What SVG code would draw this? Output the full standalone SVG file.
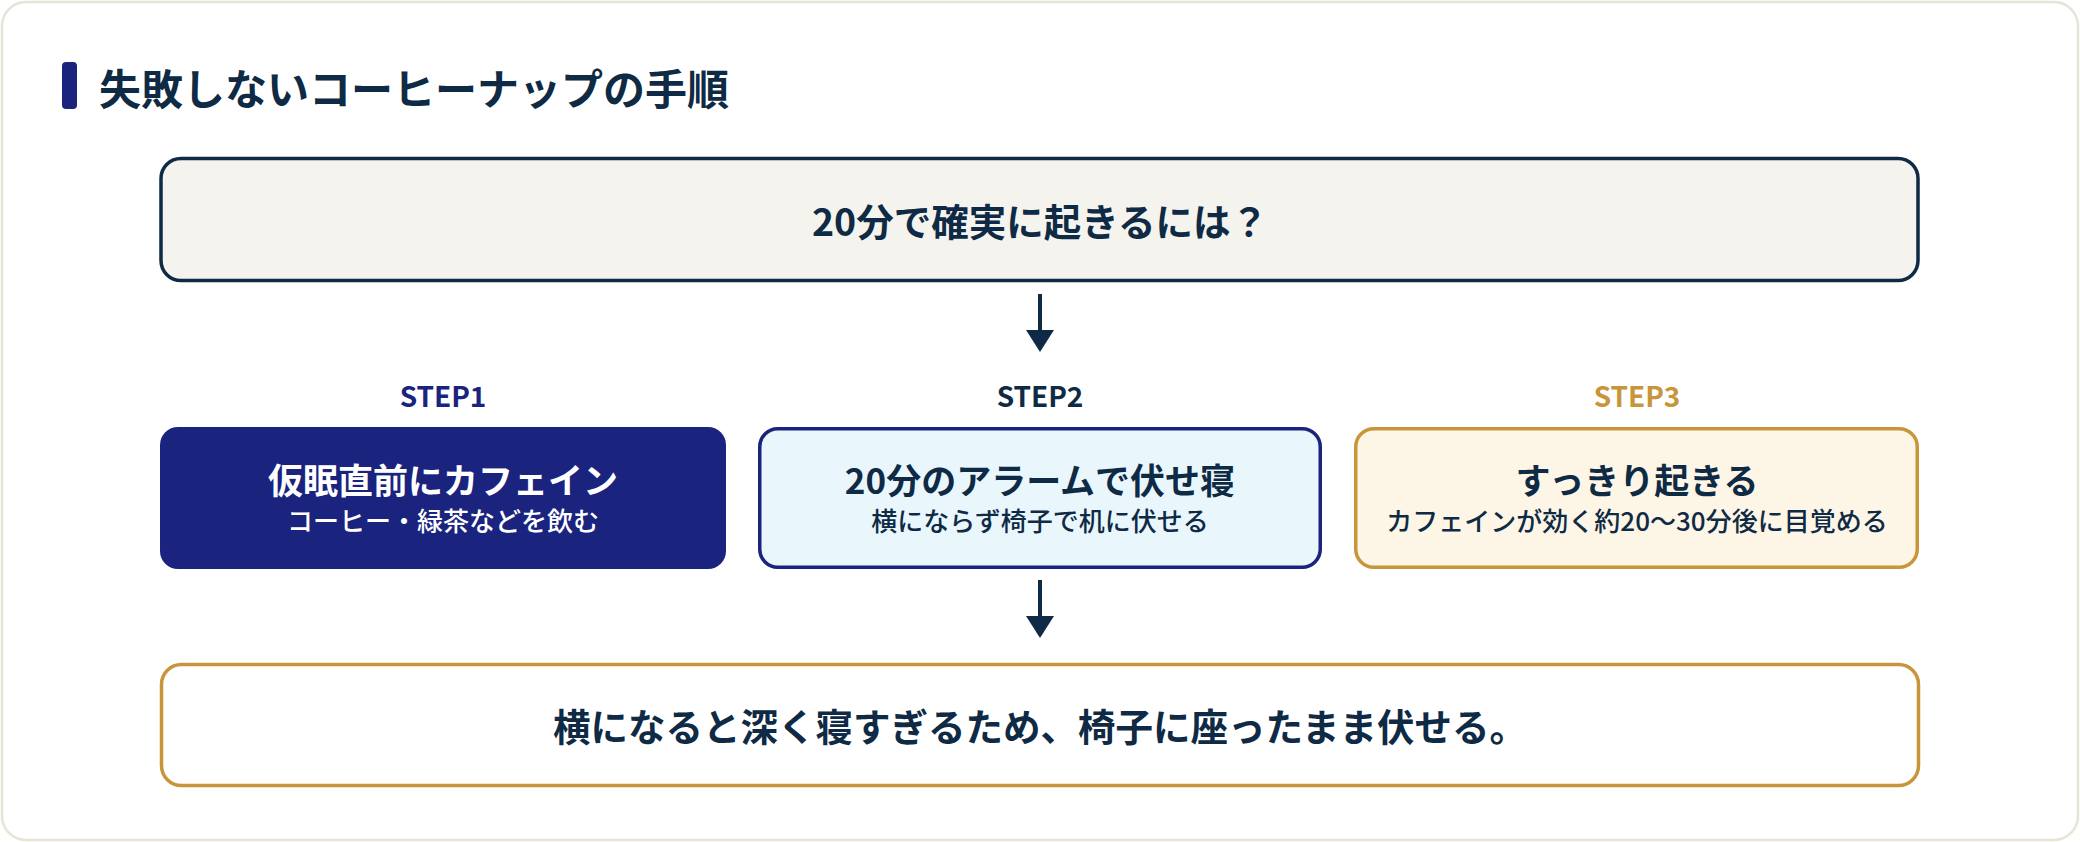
<svg xmlns="http://www.w3.org/2000/svg" width="2080" height="842" viewBox="0 0 2080 842">
<style>
text{font-family:"Noto Sans CJK JP","Noto Sans",sans-serif;}
.title{font-size:42px;font-weight:700;fill:#0f2a44;}
.q{font-size:37.5px;font-weight:700;fill:#0f2a44;text-anchor:middle;}
.step{font-size:28px;font-weight:700;text-anchor:middle;}
.h{font-size:35px;font-weight:700;text-anchor:middle;}
.s{font-size:26px;font-weight:500;text-anchor:middle;}
.dark{fill:#0f2a44;}
.white{fill:#ffffff;}
.conn line{stroke:#0f2a44;stroke-width:4;}
.conn polygon{fill:#0f2a44;}
</style>
<rect x="0" y="0" width="2080" height="842" fill="#ffffff"/>
<rect x="2" y="2" width="2076" height="838" rx="24" fill="#ffffff" stroke="#e6e3d7" stroke-width="2.5"/>
<g id="heading">
<rect x="62" y="62" width="15" height="47" rx="4" fill="#1a237e"/>
<text class="title" x="99" y="105">失敗しないコーヒーナップの手順</text>
</g>
<g id="question">
<rect x="161" y="158.5" width="1757" height="122" rx="20" fill="#f5f3ee" stroke="#0f2a44" stroke-width="3.5"/>
<text class="q" x="1040" y="236">20分で確実に起きるには？</text>
</g>
<g id="step1">
<text class="step" x="443" y="407" fill="#1a237e">STEP1</text>
<rect x="160" y="427" width="566" height="142" rx="18" fill="#1a237e"/>
<text class="h white" x="443" y="494">仮眠直前にカフェイン</text>
<text class="s white" x="443" y="531">コーヒー・緑茶などを飲む</text>
</g>
<g id="step2">
<text class="step" x="1040" y="407" fill="#0f2a44">STEP2</text>
<rect x="759.75" y="428.75" width="560.5" height="138.5" rx="18" fill="#e9f7fc" stroke="#1a237e" stroke-width="3.5"/>
<text class="h dark" x="1040" y="494">20分のアラームで伏せ寝</text>
<text class="s dark" x="1040" y="531">横にならず椅子で机に伏せる</text>
</g>
<g id="step3">
<text class="step" x="1637" y="407" fill="#c8963a">STEP3</text>
<rect x="1355.75" y="428.75" width="561.5" height="138.5" rx="18" fill="#fdf5e6" stroke="#c8963a" stroke-width="3.5"/>
<text class="h dark" x="1637" y="494">すっきり起きる</text>
<text class="s dark" x="1637" y="531">カフェインが効く約20〜30分後に目覚める</text>
</g>
<g id="conclusion">
<rect x="161.5" y="664.5" width="1757" height="121" rx="20" fill="#ffffff" stroke="#c8963a" stroke-width="3.5"/>
<text class="q" x="1040" y="741">横になると深く寝すぎるため、椅子に座ったまま伏せる。</text>
</g>
<g id="connectors" class="conn">
<line x1="1040" y1="294" x2="1040" y2="332"/>
<polygon points="1026,330 1054,330 1040,352"/>
<line x1="1040" y1="580" x2="1040" y2="618"/>
<polygon points="1026,616 1054,616 1040,638"/>
</g>
</svg>
